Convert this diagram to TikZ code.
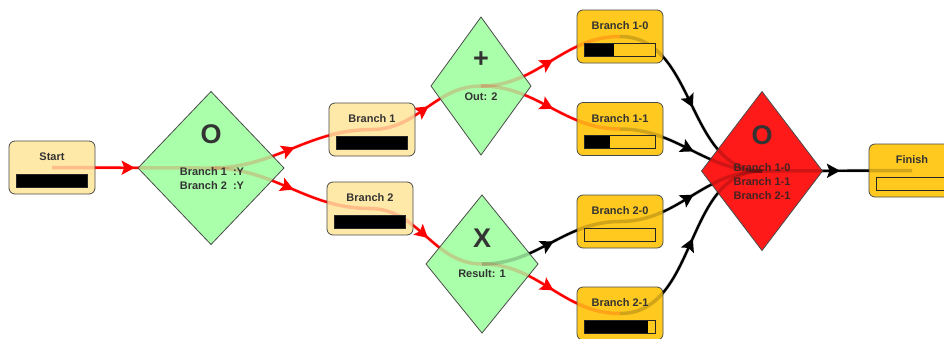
\documentclass[tikz,border=0pt]{standalone}
\usepackage{fontspec}
\setmainfont{Liberation Sans}
\usetikzlibrary{shapes.geometric,arrows.meta,decorations.markings}
\pgfdeclarelayer{background}
\pgfdeclarelayer{faint}
\pgfdeclarelayer{foreground}
\pgfsetlayers{background,main,faint,foreground}

\definecolor{lightbox}{HTML}{FFE9A8}
\definecolor{darkbox}{HTML}{FFC91F}
\definecolor{greenD}{HTML}{AAFFAA}
\definecolor{redD}{HTML}{FF1A1A}
\definecolor{edgered}{HTML}{FF0000}
\definecolor{txt}{HTML}{333333}
\definecolor{redtxt}{HTML}{442222}
\definecolor{border}{HTML}{4A4A4A}

\tikzset{
  box/.style={draw=border, line width=0.8pt, rounded corners=6pt,
    minimum width=86pt, minimum height=53pt, inner sep=0pt, outer sep=0pt},
  gate/.style={diamond, draw=border, line width=0.8pt, inner sep=0pt,
    outer sep=0pt},
  lbl/.style={font=\bfseries\fontsize{11}{13}\selectfont, text=txt, inner sep=0pt},
  bigsym/.style={font=\bfseries\fontsize{27}{30}\selectfont, text=txt, inner sep=0pt},
  barframe/.style={draw=black!85, line width=0.8pt},
  flow/.style={line width=2.4pt, postaction={decorate},
    decoration={markings, mark=at position 0.52 with {\arrow{Stealth[length=13pt,width=14pt,inset=2.5pt]}}}},
  redflow/.style={flow, edgered},
  blackflow/.style={flow, black},
  glow/.style={line width=3.5pt, opacity=0.18},
}

\newcommand\taskbox[6]{%
  \node[box, fill=#4] (#1) at (#2,#3) {};
  \begin{pgfonlayer}{foreground}
  \node[lbl] (#1-t) at ([shift={(0,-10.5)}]#1.center) {#6};
  \fill[#4] ([shift={(-35.5,6.5)}]#1.center) rectangle ([shift={(35.5,19.5)}]#1.center);
  \fill[black] ([shift={(-35.5,6.5)}]#1.center) rectangle ([shift={({-35.5+71*#5},19.5)}]#1.center);
  \draw[barframe] ([shift={(-35.5,6.5)}]#1.center) rectangle ([shift={(35.5,19.5)}]#1.center);
  \end{pgfonlayer}
}

% connector drawn solid under the nodes and faint over them
\newcommand\link[3]{%
  \begin{pgfonlayer}{background}
  \draw[#1flow] (#2.center) to[out=0,in=180] (#3.center);
  \end{pgfonlayer}
  \begin{pgfonlayer}{faint}
  \draw[glow, #1] (#2.center) to[out=0,in=180] (#3.center);
  \end{pgfonlayer}
}

\begin{document}
\begin{tikzpicture}[x=1pt,y=-1pt]
\useasboundingbox (0,0) rectangle (944,338);
\clip (0,0) rectangle (944,338);

% task boxes
\taskbox{start}{52}{167.5}{lightbox}{1}{Start}
\taskbox{b1}{372}{129.5}{lightbox}{1}{Branch 1}
\taskbox{b2}{370}{208.5}{lightbox}{1}{Branch 2}
\taskbox{b10}{620}{36.5}{darkbox}{0.41}{Branch 1-0}
\taskbox{b11}{620}{129}{darkbox}{0.36}{Branch 1-1}
\taskbox{b20}{620}{221.5}{darkbox}{0}{Branch 2-0}
\taskbox{b21}{620}{313.5}{darkbox}{0.9}{Branch 2-1}
\taskbox{fin}{912}{170.5}{darkbox}{0}{Finish}

% gateways
\node[gate, fill=greenD, minimum width=146pt, minimum height=153pt] (d1) at (211,168) {};
\node[gate, fill=greenD, minimum width=100pt, minimum height=138pt] (dp) at (481,86) {};
\node[gate, fill=greenD, minimum width=112pt, minimum height=138pt] (dx) at (482,264) {};
\node[gate, fill=redD, minimum width=121pt, minimum height=159pt] (dj) at (762,171) {};

\begin{pgfonlayer}{foreground}
\node[bigsym] (d1-s) at (211,134) {O};
\node[lbl, align=center] (d1-t) at (212,178.5) {Branch 1\ \ :Y\\[1pt]Branch 2\ \ :Y};
\node[bigsym] (dp-s) at (481,60) {+};
\node[lbl] (dp-t) at (481,97) {Out: 2};
\node[bigsym] (dx-s) at (482,238) {X};
\node[lbl] (dx-t) at (482,274) {Result: 1};
\node[bigsym] (dj-s) at (762,135) {O};
\node[lbl, text=redtxt, align=center] (dj-t) at (762,182) {Branch 1-0\\[1pt]Branch 1-1\\[1pt]Branch 2-1};
\end{pgfonlayer}

% connectors
\link{red}{start}{d1}
\link{red}{d1}{b1}
\link{red}{d1}{b2}
\link{red}{b1}{dp}
\link{red}{b2}{dx}
\link{red}{dp}{b10}
\link{red}{dp}{b11}
\link{black}{dx}{b20}
\link{red}{dx}{b21}
\link{black}{b10}{dj}
\link{black}{b11}{dj}
\link{black}{b20}{dj}
\link{black}{b21}{dj}
\link{black}{dj}{fin}
\end{tikzpicture}
\end{document}
